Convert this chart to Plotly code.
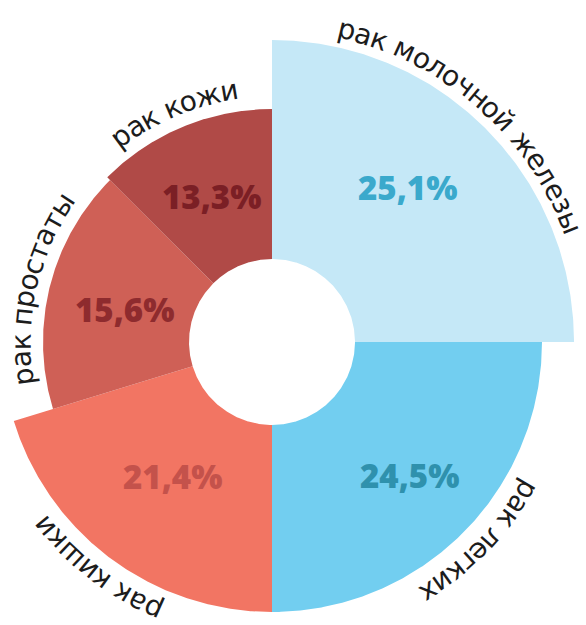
import numpy as np
import plotly.graph_objects as go

# ---- data ----
categories = ["рак молочной железы", "рак легких", "рак кишки", "рак простаты", "рак кожи"]
share_pct = [25.1, 24.5, 21.4, 15.6, 13.3]
pct_labels = ["25,1%", "24,5%", "21,4%", "15,6%", "13,3%"]
sweep_deg = [90, 90, 73, 62, 45]          # angular size of each sector
outer_radius = [302, 270, 270, 229, 233]  # sector length (same units as the hole)

# ---- styles ----
fill_colors = ["#C5E8F7", "#72CEF0", "#F27563", "#CF6056", "#B04A47"]
pct_colors = ["#3AA9CC", "#2F91AD", "#C4524B", "#8E2B2E", "#7B1F25"]
pct_frac = [0.56, 0.58, 0.45, 0.46, 0.50]     # radial placement of % labels inside sectors
pct_turn = [3.5, 1.0, 0.0, 1.5, 0.0]          # small angular nudges of % labels (deg)
name_gap = [19, 25, 23, 22, 22]               # distance of curved names from sector edge
name_turn = [4.0, 1.0, -1.0, 1.0, 0.5]        # angular nudges of curved names (deg)
HOLE_R = 83
START_DEG = 90
LABEL_FONT = "DejaVu Sans"
LABEL_SIZE = 28
PCT_FONT = "Open Sans"
PCT_SIZE = 33

# approximate advance widths (em) of DejaVu Sans glyphs
EM = {"а": .613, "е": .615, "и": .652, "й": .652, "к": .58, "л": .63, "м": .753,
      "н": .635, "о": .612, "п": .634, "р": .635, "с": .55, "т": .575, "х": .592,
      "ч": .58, "ш": .918, "ж": .9, "з": .537, "ы": .819, "г": .498, " ": .318}

fig = go.Figure()
annotations = []

theta = START_DEG
for i, (cat, lab, sw, r_out) in enumerate(zip(categories, pct_labels, sweep_deg, outer_radius)):
    t_start, t_end = theta, theta - sw
    th = np.radians(np.linspace(t_start, t_end, 240))
    xs = np.concatenate([r_out * np.cos(th), HOLE_R * np.cos(th[::-1])])
    ys = np.concatenate([r_out * np.sin(th), HOLE_R * np.sin(th[::-1])])
    fig.add_trace(go.Scatter(x=xs, y=ys, mode="lines", fill="toself", fillcolor=fill_colors[i],
                             line=dict(width=0, color=fill_colors[i]), showlegend=False,
                             hoverinfo="text", text=f"{cat}: {lab}"))
    mid_deg = (t_start + t_end) / 2
    # percentage label
    pm = np.radians(mid_deg + pct_turn[i])
    r_lab = HOLE_R + pct_frac[i] * (r_out - HOLE_R)
    annotations.append(dict(x=r_lab * np.cos(pm), y=r_lab * np.sin(pm), text=lab,
                            showarrow=False, xanchor="center", yanchor="middle",
                            font=dict(family=PCT_FONT, size=PCT_SIZE, color=pct_colors[i],
                                      weight=800)))
    # curved category label, read clockwise, glyph tops pointing outward
    nm = np.radians(mid_deg + name_turn[i])
    R = r_out + name_gap[i]
    widths = [EM.get(ch, .6) * LABEL_SIZE for ch in cat]
    total = sum(widths)
    a0 = nm + total / (2 * R)
    cum = 0.0
    for ch, w in zip(cat, widths):
        a = a0 - (cum + w / 2) / R
        cum += w
        if ch == " ":
            continue
        annotations.append(dict(x=R * np.cos(a), y=R * np.sin(a), text=ch, showarrow=False,
                                xanchor="center", yanchor="middle",
                                textangle=90 - np.degrees(a),
                                font=dict(family=LABEL_FONT, size=LABEL_SIZE, color="#1c1c1c")))
    theta = t_end

fig.update_layout(
    width=586, height=625, autosize=False,
    margin=dict(l=0, r=0, t=0, b=0),
    paper_bgcolor="white", plot_bgcolor="white",
    xaxis=dict(range=[-272, 314], visible=False, fixedrange=True),
    yaxis=dict(range=[-283, 342], visible=False, fixedrange=True),
    annotations=annotations,
    showlegend=False,
)

fig.write_html("out.html", config={"displayModeBar": False},
               post_script="document.body.style.margin='0';document.body.style.overflow='hidden';")
